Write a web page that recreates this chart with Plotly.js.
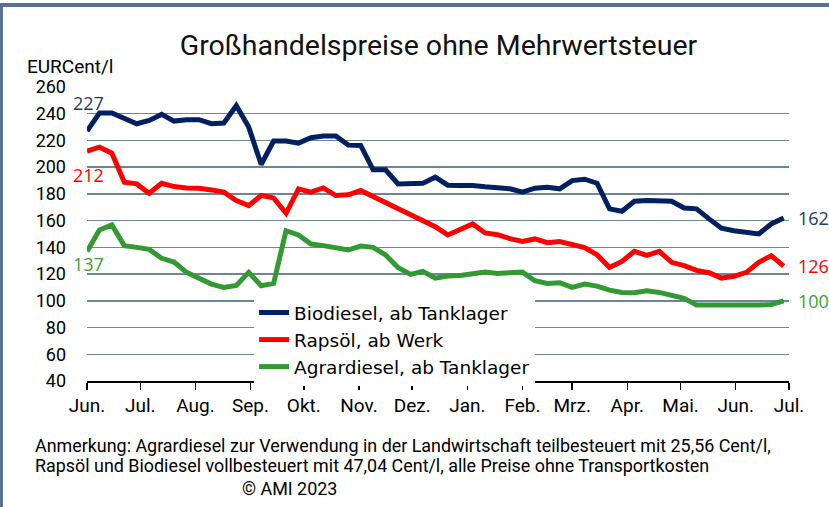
<!DOCTYPE html>
<html>
<head>
<meta charset="utf-8">
<script src="https://cdn.plot.ly/plotly-3.0.1.min.js"></script>
<style>
  html, body { margin: 0; padding: 0; background: #ffffff; }
  #wrap { position: relative; width: 829px; height: 507px; overflow: hidden; }
  #chart { position: absolute; left: 0; top: 0; width: 829px; height: 507px; }
  #frame { position: absolute; left: 0; top: 3px; width: 829px; height: 504px; box-sizing: border-box;
           border-top: 4px solid #5a7191; border-left: 3px solid #5a7191; pointer-events: none; }
</style>
</head>
<body>
<div id="wrap"><div id="chart"></div><div id="frame"></div></div>
<script>
// Weekly observation dates
const dates = [
  '2022-06-01','2022-06-08','2022-06-15','2022-06-22','2022-06-29',
  '2022-07-06','2022-07-13','2022-07-20','2022-07-27',
  '2022-08-03','2022-08-10','2022-08-17','2022-08-24','2022-08-31',
  '2022-09-07','2022-09-14','2022-09-21','2022-09-28',
  '2022-10-05','2022-10-12','2022-10-19','2022-10-26',
  '2022-11-02','2022-11-09','2022-11-16','2022-11-23','2022-11-30',
  '2022-12-07','2022-12-14','2022-12-21','2022-12-28',
  '2023-01-04','2023-01-11','2023-01-18','2023-01-25',
  '2023-02-01','2023-02-08','2023-02-15','2023-02-22',
  '2023-03-01','2023-03-08','2023-03-15','2023-03-22','2023-03-29',
  '2023-04-05','2023-04-12','2023-04-19','2023-04-26',
  '2023-05-03','2023-05-10','2023-05-17','2023-05-24','2023-05-31',
  '2023-06-07','2023-06-14','2023-06-21','2023-06-28'
];

// Biodiesel, ab Tanklager (EURCent/l)
const biodiesel = [227, 240.5, 240.5, 237, 232.5, 235, 239.5, 234.5, 235.5, 235.5, 232.5, 233, 246, 230, 202,
  219.5, 219.5, 218, 222, 223.3, 223.3, 216.5, 216.3, 198, 198, 187.5, 188, 188, 192.5, 186.5, 186.3, 186.3,
  185.3, 185, 183.8, 181.3, 184.3, 185, 183.8, 190, 191, 188, 168.8, 167, 174.5, 175, 175, 174.5, 169.5, 168.8,
  161.3, 154.3, 152.5, 150.8, 150, 157.5, 162];

// Rapsöl, ab Werk
const rapsoel = [212, 215, 210.5, 188.8, 187.5, 180.5, 188, 185.5, 184.5, 184.3, 183, 181.3, 175, 171.3, 178.8,
  177, 165.5, 183.8, 181.3, 184.5, 178.8, 179.3, 182.5, 178, 172.5, 168, 163.8, 160, 155.5, 149.3, 153, 157.5,
  150.8, 149.5, 146.5, 144.5, 146.3, 143.5, 144.3, 141.8, 139.8, 134.5, 125, 129.5, 137, 134, 137, 128.8, 126.3,
  122.8, 121, 117, 118.3, 121.3, 128.8, 133.8, 126];

// Agrardiesel, ab Tanklager
const agrardiesel = [137, 153, 156.8, 141.3, 140, 138.5, 131.8, 129, 121.3, 117.3, 112.5, 110, 111.5, 121.3,
  111.3, 113, 152.5, 149.3, 142.5, 141.3, 139.3, 138, 141, 140, 134.3, 125, 119.8, 122, 117, 118.5, 119, 120.5,
  121.5, 120.5, 121, 121.5, 115, 113, 113.5, 110, 112.5, 111, 108, 106.3, 106, 107.5, 106.3, 104.3, 101.8,
  96.8, 96.8, 96.8, 96.5, 96, 96.8, 97.3, 100];

const seriesNames = ['Biodiesel, ab Tanklager', 'Rapsöl, ab Werk', 'Agrardiesel, ab Tanklager'];
const startLabels = ['227', '212', '137'];
const endLabels = ['162', '126', '100'];

const monthTicks = ['2022-06-01','2022-07-01','2022-08-01','2022-09-01','2022-10-01','2022-11-01','2022-12-01',
  '2023-01-01','2023-02-01','2023-03-01','2023-04-01','2023-05-01','2023-06-01','2023-07-01'];
const monthLabels = ['Jun.','Jul.','Aug.','Sep.','Okt.','Nov.','Dez.','Jan.','Feb.','Mrz.','Apr.','Mai.','Jun.','Jul.'];

const yTicks = [40, 60, 80, 100, 120, 140, 160, 180, 200, 220, 240, 260];

const titleText = 'Großhandelspreise ohne Mehrwertsteuer';
const unitText = 'EURCent/l';
const noteLines = [
  'Anmerkung: Agrardiesel zur Verwendung in der Landwirtschaft teilbesteuert mit 25,56 Cent/l,',
  'Rapsöl und Biodiesel vollbesteuert mit 47,04 Cent/l, alle Preise ohne Transportkosten',
  '© AMI 2023'
];

const FONT = 'Roboto, Open Sans, sans-serif';
const FONT_WIDE = 'DejaVu Sans, Verdana, sans-serif';
const FONT_NUM = 'Open Sans, Noto Sans, sans-serif';
const colors = ['#002060', '#ff0000', '#339933'];
const labelColors = ['#1f3a6e', '#ff0000', '#3a9e34'];
const allSeries = [biodiesel, rapsoel, agrardiesel];

const traces = allSeries.map((vals, i) => ({
  type: 'scatter', mode: 'lines', x: dates, y: vals, name: seriesNames[i],
  line: { color: colors[i], width: 5 }, hoverinfo: 'skip'
}));

const startShift = [28, -24, -13];
const annotations = [];
allSeries.forEach((vals, i) => {
  annotations.push({ xref: 'x', yref: 'y', x: dates[0], y: vals[0], text: startLabels[i], showarrow: false,
    xanchor: 'center', yanchor: 'middle', yshift: startShift[i], xshift: 1,
    font: { family: FONT_NUM, size: 18, color: labelColors[i] } });
  annotations.push({ xref: 'x', yref: 'y', x: dates[dates.length - 1], y: vals[vals.length - 1], text: endLabels[i],
    showarrow: false, xanchor: 'left', yanchor: 'middle', xshift: 12,
    font: { family: FONT_NUM, size: 18, color: labelColors[i] } });
});
annotations.push({ xref: 'paper', yref: 'paper', x: -0.0883, y: 1.071, text: unitText, showarrow: false,
  xanchor: 'left', yanchor: 'middle', font: { family: FONT, size: 19, color: '#000' } });
const noteY = [-0.2177, -0.289, -0.367];
const noteX = [-0.077, -0.077, 0.289];
const noteAnchor = ['left', 'left', 'center'];
noteLines.forEach((t, i) => {
  annotations.push({ xref: 'paper', yref: 'paper', x: noteX[i], y: noteY[i], text: t, showarrow: false,
    xanchor: noteAnchor[i], yanchor: 'middle', font: { family: FONT, size: 17.9, color: '#000' } });
});

const layout = {
  width: 829, height: 507,
  margin: { l: 87, r: 40, t: 87, b: 126 },
  paper_bgcolor: '#ffffff', plot_bgcolor: '#ffffff',
  showlegend: true,
  title: { text: titleText, x: 0.5007, xref: 'paper', y: 0.911, yref: 'container', yanchor: 'middle',
    font: { family: FONT, size: 28.5, color: '#111' } },
  xaxis: {
    type: 'date', range: ['2022-06-01', '2023-07-01'], tickmode: 'array', tickvals: monthTicks, ticktext: monthLabels,
    ticks: 'outside', ticklen: 7, tickwidth: 1.5, tickcolor: '#000', showline: true, linecolor: '#000', linewidth: 1.5,
    showgrid: false, zeroline: false, fixedrange: true,
    tickfont: { family: FONT, size: 19, color: '#000' }
  },
  yaxis: {
    range: [40, 260], tickmode: 'array', tickvals: yTicks, ticktext: yTicks.map(String),
    showgrid: true, gridcolor: '#6e849c', gridwidth: 1.5, showline: false, zeroline: false, ticks: '',
    ticklabelstandoff: 20, fixedrange: true,
    tickfont: { family: FONT, size: 18, color: '#000' }
  },
  legend: { x: 0.238, y: 0.296, xanchor: 'left', yanchor: 'top', bgcolor: '#ffffff', borderwidth: 0,
    font: { family: FONT_WIDE, size: 18.5, color: '#000' }, tracegroupgap: 0 },
  annotations: annotations
};

Plotly.newPlot('chart', traces, layout, { displayModeBar: false, staticPlot: true });
</script>
</body>
</html>
